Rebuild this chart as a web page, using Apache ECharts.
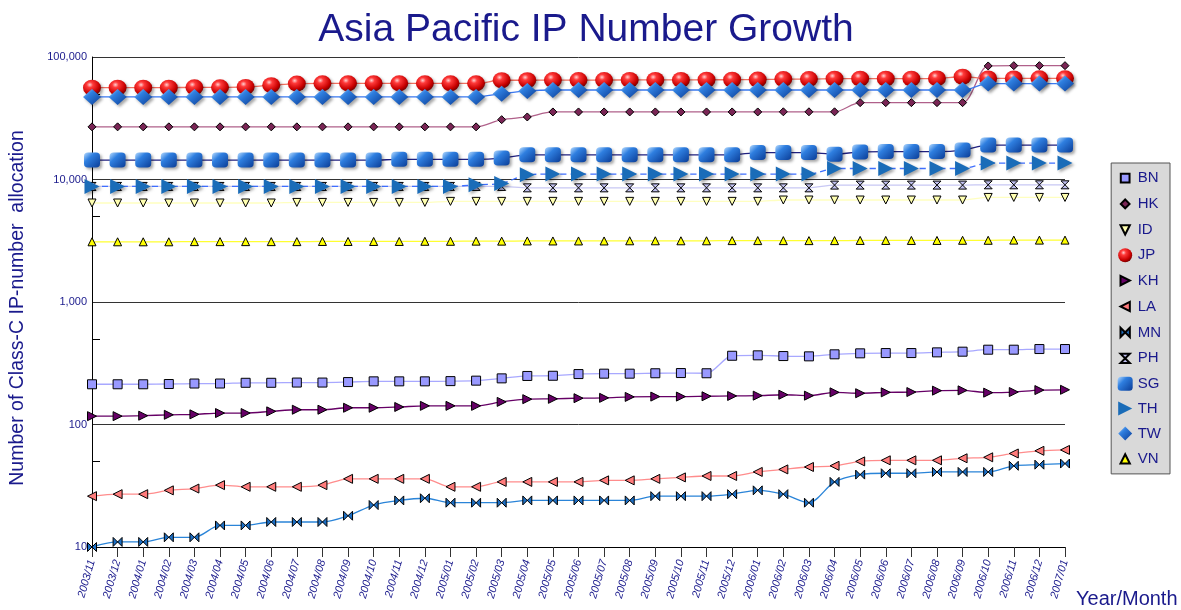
<!DOCTYPE html>
<html>
<head>
<meta charset="utf-8">
<title>Asia Pacific IP Number Growth</title>
<script src="https://cdn.jsdelivr.net/npm/echarts@6/dist/echarts.min.js"></script>
<style>
  html, body { margin: 0; padding: 0; background: #ffffff; }
  #chart { width: 1181px; height: 610px; }
</style>
</head>
<body>
<div id="chart"></div>
<script>
// Monthly class-C allocations per economy (log scale)
const months = [
  '2003/11', '2003/12',
  '2004/01', '2004/02', '2004/03', '2004/04', '2004/05', '2004/06',
  '2004/07', '2004/08', '2004/09', '2004/10', '2004/11', '2004/12',
  '2005/01', '2005/02', '2005/03', '2005/04', '2005/05', '2005/06',
  '2005/07', '2005/08', '2005/09', '2005/10', '2005/11', '2005/12',
  '2006/01', '2006/02', '2006/03', '2006/04', '2006/05', '2006/06',
  '2006/07', '2006/08', '2006/09', '2006/10', '2006/11', '2006/12',
  '2007/01'
];

const BN = [213, 213, 213, 214, 216, 216, 219, 219, 220, 220, 222, 225, 225, 225, 226, 228, 238, 249, 250, 258,
            260, 260, 262, 263, 262, 364, 367, 362, 360, 374, 381, 383, 383, 388, 393, 408, 408, 413, 413];
const HK = [26900, 26900, 26900, 26900, 26900, 26900, 26900, 26900, 26900, 26900, 26900, 26900, 26900, 26900, 26900, 26900,
            30800, 32400, 35600, 35600, 35600, 35600, 35600, 35600, 35600, 35600, 35600, 35700, 35700, 35700,
            42400, 42400, 42400, 42400, 42400, 84500, 85000, 85000, 85000];
const ID = [6430, 6430, 6430, 6430, 6430, 6430, 6430, 6430, 6500, 6500, 6500, 6500, 6500, 6500, 6630, 6630, 6630, 6630, 6630, 6630,
            6630, 6630, 6630, 6630, 6630, 6630, 6630, 6800, 6800, 6800, 6800, 6800, 6800, 6800, 6800, 7140, 7140, 7140, 7140];
const JP = [56200, 56200, 56200, 56200, 56500, 56500, 57000, 58900, 60700, 61000, 61000, 61000, 61000, 61000, 61000, 61000,
            64600, 64600, 64800, 64800, 64800, 65000, 65000, 65000, 65200, 65200, 65400, 66000, 66000, 66500, 66500, 66500,
            66500, 66800, 69000, 66800, 66800, 67000, 67000];
const KH = [117, 117, 118, 120, 121, 124, 124, 128, 132, 132, 137, 137, 139, 142, 142, 142, 153, 161, 162, 164,
            165, 168, 169, 169, 170, 171, 172, 175, 172, 183, 180, 183, 184, 189, 190, 182, 184, 191, 192];
const LA = [26, 27, 27, 29, 30, 32, 31, 31, 31, 32, 36, 36, 36, 36, 31, 31, 34, 34, 34, 34,
            35, 35, 36, 37, 38, 38, 41, 43, 45, 46, 50, 51, 51, 51, 53, 54, 58, 61, 62];
const MN = [10, 11, 11, 12, 12, 15, 15, 16, 16, 16, 18, 22, 24, 25, 23, 23, 23, 24, 24, 24,
            24, 24, 26, 26, 26, 27, 29, 27, 23, 34, 39, 40, 40, 41, 41, 41, 46, 47, 48];
const PH = [8780, 8780, 8780, 8780, 8780, 8780, 8780, 8780, 8780, 8780, 8780, 8780, 8780, 8780, 8780, 8780, 8780,
            8550, 8550, 8550, 8550, 8550, 8550, 8550, 8550, 8550, 8550, 8550, 8550,
            9000, 9000, 9000, 9000, 9000, 9000, 9050, 9050, 9050, 9050];
const SG = [14400, 14400, 14400, 14400, 14400, 14400, 14400, 14400, 14400, 14400, 14400, 14400, 14600, 14600, 14600, 14600,
            14950, 15900, 15900, 15900, 15900, 15900, 15900, 15900, 15900, 15900, 16600, 16600, 16600, 16100,
            16800, 16900, 16900, 16900, 17400, 19100, 19100, 19100, 19100];
const TH = [8780, 8780, 8780, 8780, 8780, 8780, 8780, 8780, 8780, 8780, 8780, 8780, 8780, 8780, 8780, 9060, 9290,
            10930, 11070, 11070, 11070, 11070, 11070, 11070, 11070, 11070, 11070, 11070, 11070,
            12300, 12300, 12300, 12300, 12300, 12300, 13620, 13620, 13620, 13620];
const TW = [47200, 47200, 47200, 47200, 47200, 47200, 47200, 47200, 47200, 47200, 47200, 47200, 47200, 47200, 47200, 47200,
            50200, 52900, 53800, 53800, 53800, 53800, 53800, 53800, 53800, 53800, 53800, 53800, 53800, 53800,
            53800, 53800, 53800, 53800, 53800, 60700, 60700, 60700, 60700];
const VN = [3100, 3100, 3100, 3100, 3110, 3110, 3110, 3110, 3110, 3120, 3120, 3120, 3120, 3130, 3130, 3140, 3140, 3150, 3150, 3150,
            3150, 3160, 3160, 3160, 3160, 3170, 3170, 3170, 3170, 3170, 3180, 3180, 3180, 3180, 3190, 3190, 3200, 3200, 3200];

const NAVY = '#1a1a8c';
const FONT = '"Liberation Sans", Arial, sans-serif';

// marker outlines in a 10x10 box
const SHAPE = {
  square: 'M0,0 L10,0 L10,10 L0,10 Z',
  rightTri: 'M0,0 L10,5 L0,10 Z',
  leftTri: 'M10,0 L0,5 L10,10 Z',
  downTri: 'M0,0 L10,0 L5,10 Z',
  upTri: 'M5,0 L10,10 L0,10 Z',
  bowtie: 'M0,0 L10,10 L10,0 L0,10 Z',
  hourglass: 'M0,0 L10,0 L0,10 L10,10 Z',
  diamond: 'M5,0 L10,5 L5,10 L0,5 Z'
};
function sym(name) { return 'path://' + SHAPE[name]; }
// same outline with empty margin so the legend icon is drawn smaller than its slot
function smallIcon(name, pad) { return 'path://M' + (-pad) + ',' + (-pad) + ' ' + SHAPE[name] + ' M' + (10 + pad) + ',' + (10 + pad); }

const sphereRed = {
  type: 'radial', x: 0.38, y: 0.32, r: 0.7,
  colorStops: [
    { offset: 0, color: '#ffd0d0' },
    { offset: 0.25, color: '#ff3a3a' },
    { offset: 0.75, color: '#c80000' },
    { offset: 1, color: '#7a0000' }
  ]
};
const glossBlue = {
  type: 'linear', x: 0, y: 0, x2: 1, y2: 1,
  colorStops: [
    { offset: 0, color: '#b8dcff' },
    { offset: 0.35, color: '#2f7fe0' },
    { offset: 1, color: '#0a3c96' }
  ]
};
const shadow = { shadowBlur: 3, shadowColor: 'rgba(0,0,0,0.35)', shadowOffsetX: 2, shadowOffsetY: 2 };
const outline = { borderColor: '#000', borderWidth: 1 };

const seriesDefs = [
  { name: 'BN', data: BN, symbol: sym('square'), icon: smallIcon('square', 3), size: 9, line: '#a8a8ff', item: Object.assign({ color: '#9999ff' }, outline) },
  { name: 'HK', data: HK, symbol: sym('diamond'), icon: smallIcon('diamond', 3), size: 8, line: '#b0608a', item: Object.assign({ color: '#7a2555' }, outline) },
  { name: 'ID', data: ID, symbol: sym('downTri'), icon: smallIcon('downTri', 2.5), size: 8, line: '#ffffc0', item: Object.assign({ color: '#ffffb0' }, outline) },
  { name: 'JP', data: JP, symbol: 'circle', icon: 'circle', size: [18, 16], line: '#f07060', item: Object.assign({ color: sphereRed }, shadow) },
  { name: 'KH', data: KH, symbol: sym('rightTri'), icon: smallIcon('rightTri', 2.5), size: 9, line: '#660066', item: Object.assign({ color: '#660066' }, outline) },
  { name: 'LA', data: LA, symbol: sym('leftTri'), icon: smallIcon('leftTri', 2.5), size: 9, line: '#ff8c8c', item: Object.assign({ color: '#ff7b7b' }, outline) },
  { name: 'MN', data: MN, symbol: sym('bowtie'), icon: smallIcon('bowtie', 2.5), size: 9, line: '#2a84d8', item: Object.assign({ color: '#1d6fc4' }, outline) },
  { name: 'PH', data: PH, symbol: sym('hourglass'), icon: smallIcon('hourglass', 2.5), size: 8, line: '#c8c8f4', item: Object.assign({ color: '#c0c0f0' }, outline) },
  { name: 'SG', data: SG, symbol: 'roundRect', icon: 'roundRect', size: [16, 15], line: '#202080', item: Object.assign({ color: glossBlue }, shadow) },
  { name: 'TH', data: TH, symbol: sym('rightTri'), icon: sym('rightTri'), size: [15, 15], line: '#3f6fff', dashed: true, item: Object.assign({ color: '#1a6cb8' }, shadow) },
  { name: 'TW', data: TW, symbol: sym('diamond'), icon: sym('diamond'), size: [18, 16], line: '#3a78f0', item: Object.assign({ color: glossBlue }, shadow) },
  { name: 'VN', data: VN, symbol: sym('upTri'), icon: smallIcon('upTri', 2.5), size: 8, line: '#ffff30', item: Object.assign({ color: '#ffff00' }, outline) }
];

const series = seriesDefs.map(function (d) {
  return {
    name: d.name,
    type: 'line',
    data: d.data,
    yAxisIndex: 0,
    smooth: 0.3,
    symbol: d.symbol,
    symbolSize: d.size,
    showAllSymbol: true,
    lineStyle: { color: d.line, width: 1.3, type: d.dashed ? [6, 4] : 'solid' },
    itemStyle: d.item,
    emphasis: { disabled: true },
    animation: false
  };
});

const chart = echarts.init(document.getElementById('chart'), null, { renderer: 'canvas' });

chart.setOption({
  backgroundColor: '#ffffff',
  animation: false,
  textStyle: { fontFamily: FONT },
  title: [
    {
      text: 'Asia Pacific IP Number Growth',
      left: 581, top: 6, textAlign: 'center',
      textStyle: { color: NAVY, fontSize: 39, fontWeight: 'normal', fontFamily: FONT }
    },
    {
      text: 'Year/Month',
      left: 1071, top: 584,
      textStyle: { color: NAVY, fontSize: 20, fontWeight: 'normal', fontFamily: FONT }
    }
  ],
  legend: {
    orient: 'vertical',
    right: 11, top: 163,
    padding: [7, 9, 7, 6],
    backgroundColor: '#d9d9d9',
    borderColor: '#555555',
    borderWidth: 1,
    itemWidth: 15, itemHeight: 14,
    itemGap: 9.9,
    selectedMode: false,
    textStyle: { color: NAVY, fontSize: 15, fontFamily: FONT },
    data: seriesDefs.map(function (d) {
      return { name: d.name, icon: d.icon };
    })
  },
  grid: { left: 92, right: 116, top: 57, bottom: 63, containLabel: false, outerBoundsMode: 'none' },
  xAxis: {
    type: 'category',
    data: months,
    boundaryGap: false,
    axisLine: { show: true, lineStyle: { color: '#000', width: 1 } },
    axisTick: { show: true, length: 10, lineStyle: { color: '#333' } },
    axisLabel: {
      rotate: 74, interval: 0, margin: 13,
      color: NAVY, fontSize: 11, fontStyle: 'italic', fontFamily: FONT
    },
    splitLine: { show: false }
  },
  yAxis: [
    {
      type: 'log',
      logBase: 10,
      min: 10, max: 100000,
      name: 'Number of Class-C IP-number  allocation',
      nameLocation: 'middle',
      nameGap: 64,
      nameTextStyle: { color: NAVY, fontSize: 19.5, fontFamily: FONT, padding: [0, 12, 0, 0] },
      axisLine: { show: true, lineStyle: { color: '#000', width: 1 } },
      axisTick: { show: false },
      axisLabel: {
        color: NAVY, fontSize: 11, margin: 5, fontFamily: FONT,
        formatter: function (v) { return Math.round(v).toLocaleString('en-US'); }
      },
      splitLine: { show: true, lineStyle: { color: '#333', width: 1 } }
    },
    {
      type: 'log',
      logBase: 10,
      min: 10, max: 100000,
      position: 'left',
      axisLine: { show: false },
      axisLabel: { show: false },
      splitLine: { show: false },
      axisTick: {
        show: true, inside: true, length: 8,
        customValues: [50, 500, 5000, 50000],
        lineStyle: { color: '#000' }
      }
    }
  ],
  series: series
});
</script>
</body>
</html>
